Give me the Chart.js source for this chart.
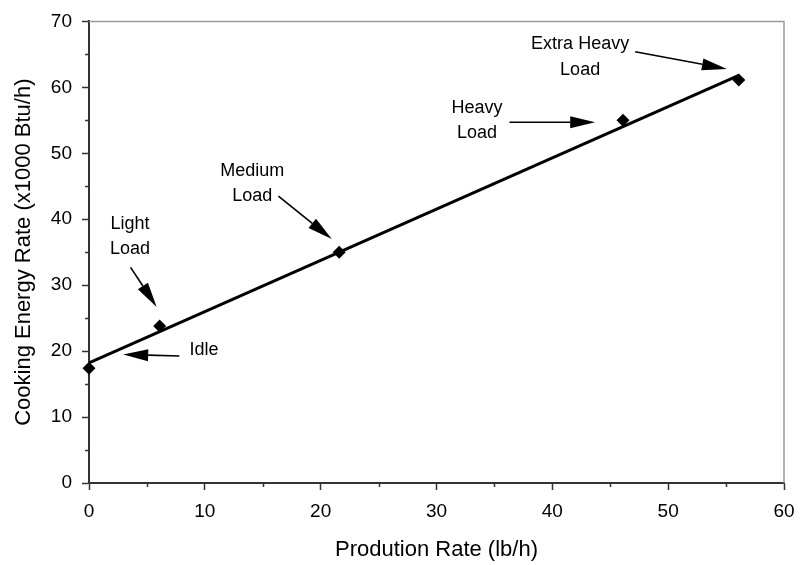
<!DOCTYPE html>
<html>
<head>
<meta charset="utf-8">
<script src="https://cdn.jsdelivr.net/npm/chart.js@4/dist/chart.umd.min.js"></script>
<style>
  html, body { margin: 0; padding: 0; background: #fff; }
  #wrap { width: 800px; height: 565px; }
</style>
</head>
<body>
<div id="wrap"><canvas id="c" width="800" height="565"></canvas></div>
<script>
// ---- data ----
const productionRate = [0, 6.1, 21.6, 46.1, 56.1];        // lb/h
const energyRate     = [17.4, 23.8, 35.0, 55.0, 61.1];    // x1000 Btu/h
const loadNames      = ['Idle', 'Light Load', 'Medium Load', 'Heavy Load', 'Extra Heavy Load'];
const trendX         = [0, 56.1];
const trendY         = [18.2, 61.8];
const xTickValues    = [0, 10, 20, 30, 40, 50, 60];
const yTickValues    = [0, 10, 20, 30, 40, 50, 60, 70];
const xMinorTicks    = [5, 15, 25, 35, 45, 55];
const yMinorTicks    = [5, 15, 25, 35, 45, 55, 65];

// callouts (text lines, text anchor and arrow in data units)
const callouts = [
  { lines: ['Idle'],            tx: 9.93, ty: [20.1],        from: [7.8, 19.25], to: [2.95, 19.5] },
  { lines: ['Light', 'Load'],   tx: 3.54, ty: [39.3, 35.5],  from: [3.59, 32.7], to: [5.84, 26.7] },
  { lines: ['Medium', 'Load'],  tx: 14.1, ty: [47.3, 43.5],  from: [16.35, 43.5], to: [20.96, 37.0] },
  { lines: ['Heavy', 'Load'],   tx: 33.5, ty: [56.8, 53.1],  from: [36.3, 54.7], to: [43.7, 54.7] },
  { lines: ['Extra Heavy', 'Load'], tx: 42.4, ty: [66.5, 62.6], from: [47.15, 65.4], to: [55.07, 62.8] }
];

const FONT = '"Liberation Sans", Arial, sans-serif';

const framePlugin = {
  id: 'frame',
  beforeDatasetsDraw(chart) {
    const { ctx, chartArea: a } = chart;
    ctx.save();
    ctx.strokeStyle = '#9a9a9a';
    ctx.lineWidth = 1.5;
    ctx.beginPath();
    ctx.moveTo(a.left, a.top);
    ctx.lineTo(a.right, a.top);
    ctx.lineTo(a.right, a.bottom);
    ctx.stroke();
    ctx.restore();
  },
  afterDraw(chart) {
    const { ctx, chartArea: a } = chart;
    const xs = chart.scales.x, ys = chart.scales.y;
    ctx.save();
    ctx.strokeStyle = '#333';
    ctx.lineWidth = 1.5;
    ctx.beginPath();
    xMinorTicks.forEach(v => {
      const px = Math.round(xs.getPixelForValue(v)) + 0.5;
      ctx.moveTo(px, a.bottom);
      ctx.lineTo(px, a.bottom + 4);
    });
    yMinorTicks.forEach(v => {
      const py = Math.round(ys.getPixelForValue(v)) + 0.5;
      ctx.moveTo(a.left, py);
      ctx.lineTo(a.left - 4, py);
    });
    ctx.stroke();
    ctx.restore();
  }
};

const calloutPlugin = {
  id: 'callouts',
  afterDatasetsDraw(chart) {
    const { ctx } = chart;
    const xs = chart.scales.x, ys = chart.scales.y;
    ctx.save();
    ctx.fillStyle = '#000';
    ctx.strokeStyle = '#000';
    ctx.font = '18px ' + FONT;
    ctx.textAlign = 'center';
    ctx.textBaseline = 'middle';
    callouts.forEach(c => {
      c.lines.forEach((t, i) => {
        ctx.fillText(t, xs.getPixelForValue(c.tx), ys.getPixelForValue(c.ty[i]));
      });
      const x1 = xs.getPixelForValue(c.from[0]), y1 = ys.getPixelForValue(c.from[1]);
      const x2 = xs.getPixelForValue(c.to[0]),   y2 = ys.getPixelForValue(c.to[1]);
      const ang = Math.atan2(y2 - y1, x2 - x1);
      const headLen = 25, headHalf = 6;
      const bx = x2 - headLen * Math.cos(ang), by = y2 - headLen * Math.sin(ang);
      ctx.lineWidth = 1.6;
      ctx.beginPath();
      ctx.moveTo(x1, y1);
      ctx.lineTo(bx, by);
      ctx.stroke();
      ctx.beginPath();
      ctx.moveTo(x2, y2);
      ctx.lineTo(bx + headHalf * Math.sin(ang), by - headHalf * Math.cos(ang));
      ctx.lineTo(bx - headHalf * Math.sin(ang), by + headHalf * Math.cos(ang));
      ctx.closePath();
      ctx.fill();
    });
    ctx.restore();
  }
};

new Chart(document.getElementById('c'), {
  type: 'scatter',
  data: {
    datasets: [
      {
        label: 'Measured',
        data: productionRate.map((x, i) => ({ x, y: energyRate[i], name: loadNames[i] })),
        pointStyle: 'rectRot',
        pointRadius: 6.5,
        backgroundColor: '#000',
        borderColor: '#000',
        borderWidth: 0,
        showLine: false,
        clip: false
      },
      {
        label: 'Trend',
        data: trendX.map((x, i) => ({ x, y: trendY[i] })),
        showLine: true,
        borderColor: '#000',
        borderWidth: 3,
        pointRadius: 0,
        fill: false
      }
    ]
  },
  options: {
    responsive: false,
    devicePixelRatio: 1,
    animation: false,
    layout: { padding: { top: 20, right: 16, left: 0, bottom: 0 } },
    plugins: {
      legend: { display: false },
      tooltip: { enabled: false },
      title: { display: false }
    },
    scales: {
      x: {
        type: 'linear',
        min: 0, max: 60,
        afterBuildTicks: s => { s.ticks = xTickValues.map(v => ({ value: v })); },
        afterFit: s => { s.height = 82; s.paddingRight = 11; s.paddingLeft = 0; },
        border: { display: true, color: '#333', width: 2 },
        grid: { display: true, drawOnChartArea: false, drawTicks: true, tickLength: 7, tickColor: '#333', tickWidth: 1.5 },
        ticks: { color: '#000', padding: 10, maxRotation: 0, font: { family: FONT, size: 19 } },
        title: { display: true, text: 'Prodution Rate (lb/h)', color: '#000', font: { family: FONT, size: 22 }, padding: { top: 0, bottom: 2 } }
      },
      y: {
        type: 'linear',
        min: 0, max: 70,
        afterBuildTicks: s => { s.ticks = yTickValues.map(v => ({ value: v })); },
        afterFit: s => { s.width = 89; },
        border: { display: true, color: '#333', width: 2 },
        grid: { display: true, drawOnChartArea: false, drawTicks: true, tickLength: 7, tickColor: '#333', tickWidth: 1.5 },
        ticks: { color: '#000', padding: 10, font: { family: FONT, size: 19 } },
        title: { display: true, text: 'Cooking Energy Rate (x1000 Btu/h)', color: '#000', font: { family: FONT, size: 22 }, padding: { top: 11, bottom: 0 } }
      }
    }
  },
  plugins: [framePlugin, calloutPlugin]
});
</script>
</body>
</html>
